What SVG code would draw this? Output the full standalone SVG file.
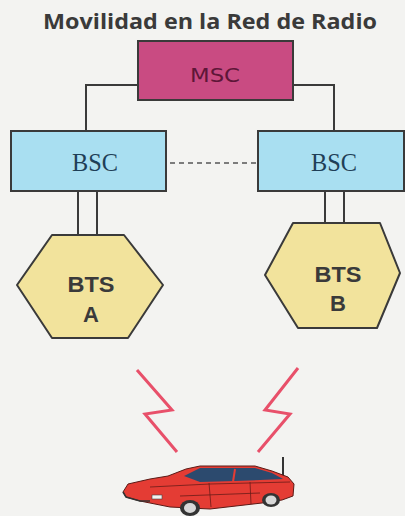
<svg xmlns="http://www.w3.org/2000/svg" width="405" height="516" viewBox="0 0 405 516">
  <style>
    .title { font-family: "Open Sans", "DejaVu Sans", sans-serif; font-weight: 700; font-size: 21px; fill: #3a3a3a; }
    .box { stroke: #3a3a3a; stroke-width: 2; }
    .msc { fill: #c94b82; }
    .bsc { fill: #a9dff1; }
    .bts { fill: #f2e39c; stroke: #3a3a3a; stroke-width: 2; stroke-linejoin: round; }
    .lbl-serif { font-family: "Liberation Serif", "Times New Roman", serif; font-size: 26px; text-anchor: middle; }
    .lbl-sans { font-family: "Liberation Sans", Arial, sans-serif; font-weight: 700; font-size: 22px; fill: #3a3a3a; text-anchor: middle; }
    .wire { fill: none; stroke: #3a3a3a; stroke-width: 2; }
    .dash { fill: none; stroke: #555; stroke-width: 1.6; stroke-dasharray: 5 4; }
    .bolt { fill: none; stroke: #e8506a; stroke-width: 3; stroke-linejoin: miter; }
  </style>

  <rect width="405" height="516" fill="#f3f3f1"/>

  <text class="title" x="43" y="29" textLength="334" lengthAdjust="spacingAndGlyphs">Movilidad en la Red de Radio</text>

  <!-- connectors -->
  <g id="connectors">
    <polyline class="wire" points="138,85 86,85 86,131"/>
    <polyline class="wire" points="293,85 334,85 334,131"/>
    <line class="dash" x1="170" y1="163" x2="257" y2="163"/>
    <line class="wire" x1="78" y1="191" x2="78" y2="235"/>
    <line class="wire" x1="97" y1="191" x2="97" y2="235"/>
    <line class="wire" x1="325" y1="191" x2="325" y2="223"/>
    <line class="wire" x1="344" y1="191" x2="344" y2="223"/>
  </g>

  <g id="msc">
    <rect class="box msc" x="138" y="41" width="155" height="59"/>
    <text x="215" y="82" font-family="DejaVu Sans, sans-serif" font-size="20" fill="#5e1638" text-anchor="middle" textLength="50" lengthAdjust="spacingAndGlyphs">MSC</text>
  </g>

  <g id="bsc-left">
    <rect class="box bsc" x="11" y="131" width="155" height="60"/>
    <text class="lbl-serif" x="95" y="171" fill="#1f3f57" textLength="46" lengthAdjust="spacingAndGlyphs">BSC</text>
  </g>

  <g id="bsc-right">
    <rect class="box bsc" x="258" y="131" width="146" height="60"/>
    <text class="lbl-serif" x="334" y="171" fill="#1f3f57" textLength="46" lengthAdjust="spacingAndGlyphs">BSC</text>
  </g>

  <g id="bts-a">
    <polygon class="bts" points="52,235 124,235 163,285 128,338 52,338 17,285"/>
    <text class="lbl-sans" x="91" y="292" textLength="47" lengthAdjust="spacingAndGlyphs">BTS</text>
    <text class="lbl-sans" x="91" y="322">A</text>
  </g>

  <g id="bts-b">
    <polygon class="bts" points="293,223 380,223 400,273 377,328 298,328 265,275"/>
    <text class="lbl-sans" x="338" y="282" textLength="47" lengthAdjust="spacingAndGlyphs">BTS</text>
    <text class="lbl-sans" x="338" y="311">B</text>
  </g>

  <!-- radio links -->
  <g id="radio">
    <polyline class="bolt" points="137,370 172,410 145,414 177,452"/>
    <polyline class="bolt" points="298,368 265,410 290,414 258,452"/>
  </g>

  <!-- mobile station: car -->
  <g id="car">
    <line x1="283" y1="457" x2="283" y2="478" stroke="#333" stroke-width="2"/>
    <!-- body -->
    <path d="M123,492 L128,484 L150,479 L168,476 L186,469 L200,466 L255,466 L272,471 L288,477 L294,484 L293,496 L282,500 L262,503 L210,509 L170,507 L140,501 L126,497 Z" fill="#e43c34" stroke="#5a1a16" stroke-width="1"/>
    <!-- windows -->
    <path d="M184,476 L200,468 L255,468 L272,473 L283,479 L235,481 L200,482 Z" fill="#2c4a6e"/>
    <line x1="235" y1="469" x2="233" y2="482" stroke="#e43c34" stroke-width="2"/>
    <!-- body lines -->
    <path d="M150,487 L210,484 L290,482" fill="none" stroke="#6a1c18" stroke-width="0.8"/>
    <line x1="209" y1="483" x2="211" y2="507" stroke="#6a1c18" stroke-width="0.8"/>
    <line x1="250" y1="482" x2="251" y2="504" stroke="#6a1c18" stroke-width="0.8"/>
    <path d="M180,496 L260,493" fill="none" stroke="#6a1c18" stroke-width="0.8"/>
    <!-- headlight and bumper -->
    <rect x="152" y="495" width="10" height="4" fill="#f3f3f1" stroke="#444" stroke-width="0.6"/>
    <path d="M123,492 L126,497 L140,501 L150,501" fill="none" stroke="#333" stroke-width="1.5"/>
    <!-- wheels -->
    <ellipse cx="190" cy="508" rx="10" ry="8" fill="#333"/>
    <ellipse cx="190" cy="508" rx="6" ry="5" fill="#d8d8d8"/>
    <ellipse cx="271" cy="500" rx="9" ry="7" fill="#333"/>
    <ellipse cx="271" cy="500" rx="5.5" ry="4.5" fill="#d8d8d8"/>
  </g>
</svg>
